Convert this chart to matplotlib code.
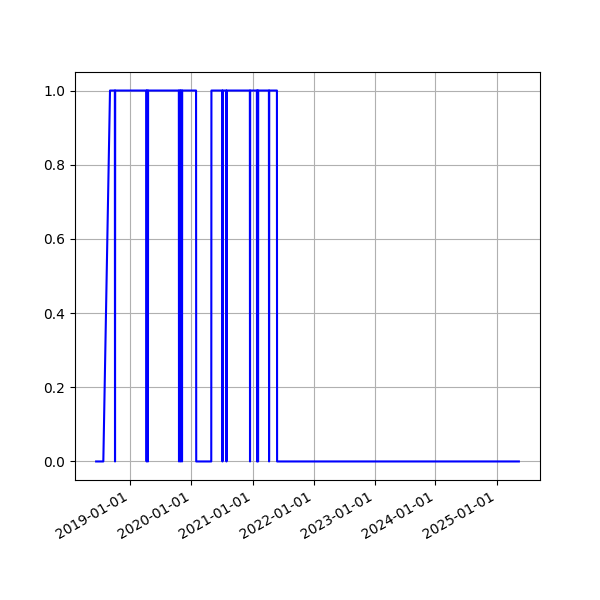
import pandas as pd
import matplotlib
matplotlib.use('Agg')
import matplotlib.pyplot as plt
import matplotlib.dates as mdates

# change points of the 0/1 state series
dates = ['2018-06-10', '2018-07-23', '2018-09-01',
         '2018-09-30', '2018-10-01', '2018-10-02',
         '2019-04-07', '2019-04-08', '2019-04-09',
         '2019-04-15', '2019-04-16', '2019-04-17',
         '2019-10-18', '2019-10-19', '2019-10-20',
         '2019-10-27', '2019-10-28', '2019-10-29',
         '2019-11-05', '2019-11-06', '2019-11-07',
         '2020-01-29', '2020-01-30', '2020-04-29', '2020-04-30',
         '2020-07-04', '2020-07-05', '2020-07-06',
         '2020-07-28', '2020-07-29', '2020-07-30',
         '2020-12-16', '2020-12-17', '2020-12-18',
         '2021-01-27', '2021-01-28', '2021-01-29',
         '2021-02-02', '2021-02-03', '2021-02-04',
         '2021-04-09', '2021-04-10', '2021-04-11',
         '2021-05-27', '2021-05-28', '2025-05-14']
values = [0, 0, 1,
          1, 0, 1,
          1, 0, 1,
          1, 0, 1,
          1, 0, 1,
          1, 0, 1,
          1, 0, 1,
          1, 0, 0, 1,
          1, 0, 1,
          1, 0, 1,
          1, 0, 1,
          1, 0, 1,
          1, 0, 1,
          1, 0, 1,
          1, 0, 0]

x = pd.to_datetime(dates)

fig, ax = plt.subplots(figsize=(6, 6), dpi=100)
ax.plot(x, values, color='blue')
ax.grid(True)
ax.xaxis.set_major_locator(mdates.YearLocator())
ax.xaxis.set_major_formatter(mdates.DateFormatter('%Y-%m-%d'))
fig.autofmt_xdate()
fig.savefig('out.png')
